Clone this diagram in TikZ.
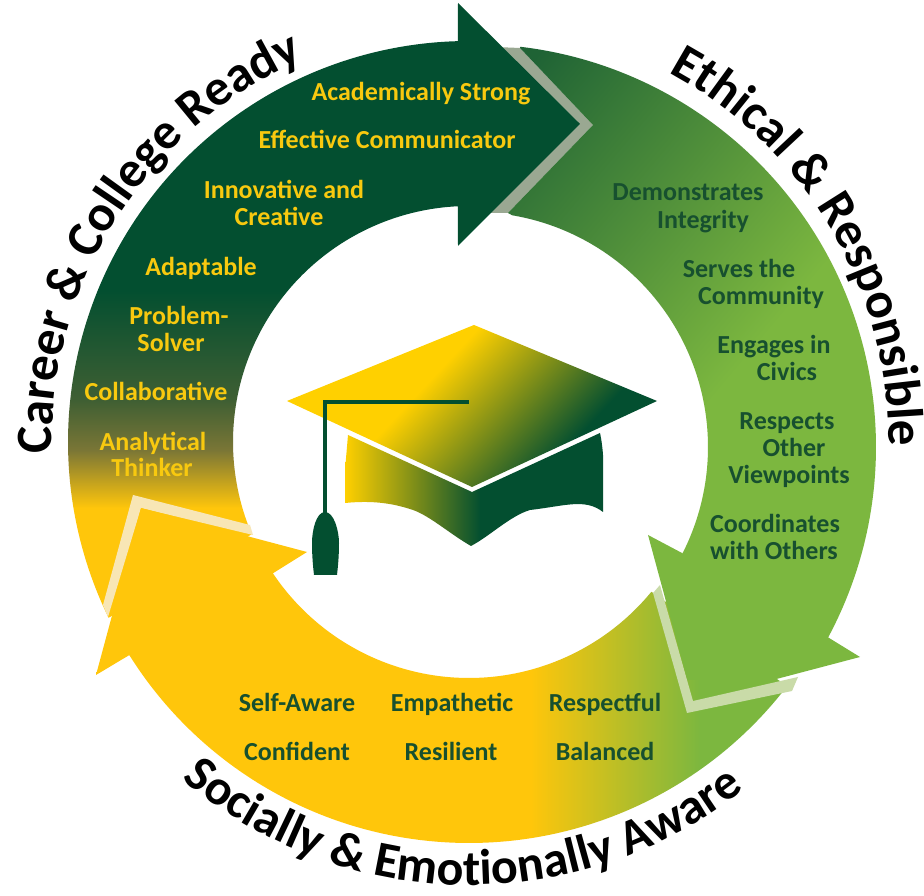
\documentclass[tikz,border=0pt]{standalone}
\usepackage{fontspec}
\setmainfont{Carlito}
\usetikzlibrary{decorations.text,calc}
\definecolor{dk}{HTML}{034F30}
\definecolor{yl}{HTML}{FFC60B}
\definecolor{lg}{HTML}{7CB73F}
\definecolor{mg}{HTML}{1F6335}
\definecolor{capy}{HTML}{FFD000}
\definecolor{ytxt}{HTML}{F8C90F}
\definecolor{gtxt}{HTML}{17502F}
\definecolor{bandtop}{HTML}{9AA892}
\definecolor{bandleft}{HTML}{F8E6B5}
\definecolor{bandright}{HTML}{C9DBA8}
\definecolor{olivea}{HTML}{3F5F33}
\definecolor{oliveb}{HTML}{7A7636}
\pgfdeclareverticalshading{darkyellow}{100bp}{color(0bp)=(yl); color(46.65bp)=(yl); color(49.89bp)=(oliveb); color(52.68bp)=(olivea); color(58.8bp)=(dk); color(100bp)=(dk)}
\pgfdeclarehorizontalshading{yellowgreen}{100bp}{color(0bp)=(yl); color(53.7bp)=(yl); color(62.9bp)=(lg); color(100bp)=(lg)}
\pgfdeclarehorizontalshading{greenband}{100bp}{color(0bp)=(mg); color(29bp)=(mg); color(56bp)=(lg); color(100bp)=(lg)}
\pgfdeclarehorizontalshading{brimshade}{100bp}{color(0bp)=(capy); color(43.4bp)=(capy); color(63.4bp)=(dk); color(100bp)=(dk)}
\pgfdeclarehorizontalshading{baseshade}{100bp}{color(0bp)=(capy); color(25bp)=(capy); color(51.2bp)=(dk); color(100bp)=(dk)}
\newcommand\arclab{\fontsize{51}{51}\selectfont\bfseries}
\newcommand\arclabb{\fontsize{50}{50}\selectfont\bfseries}
\tikzset{
  ylab/.style={anchor=base,text=ytxt,font=\fontsize{26}{26}\selectfont\bfseries,inner sep=0pt},
  glab/.style={anchor=base,text=gtxt,font=\fontsize{26}{26}\selectfont\bfseries,inner sep=0pt},
  ringlab/.style={decorate,decoration={text along path,text align=center,text={|\arclab|#1}}},
  ringlabb/.style={decorate,decoration={text along path,text align=center,text={|\arclabb|#1}}}
}
\begin{document}
\begin{tikzpicture}[x=1pt,y=1pt]
\useasboundingbox (0,0) rectangle (924,896);
\fill[white] (0,0) rectangle (924,896);
\coordinate (cl) at (469,454);
\coordinate (cg) at (473,449);
% top band
\fill[bandtop] (495,849) -- (520,848) -- (593,771) -- (508,683) -- (490,683) -- (560,772) -- cycle;
% dark arrow
\begin{scope}
\clip (cl) ++(91.6:401) arc[start angle=91.6,end angle=206,radius=401]
  -- ($(cl)+(203:236)$) arc[start angle=203,end angle=92.7,radius=236]
  -- (458,650) -- (580,772) -- (458,893) -- cycle;
\shade[shading=darkyellow] (0,0) rectangle (924,896);
\end{scope}
% left band
\fill[bandleft] (133,401) -- (250,371) -- (253,361) -- (141,388) -- (108,279) -- (103,291) -- cycle;
% yellow arrow
\begin{scope}
\clip ($(cl)+(213.8:236)$) arc[start angle=213.8,end angle=320.6,radius=236]
  -- ($(cl)+(322.5:401)$) arc[start angle=322.5,end angle=212.1,radius=401]
  -- (96,221) -- (141,388) -- (307,344) -- (275,324) -- cycle;
\shade[shading=yellowgreen] (0,0) rectangle (924,896);
\end{scope}
% right band
\fill[bandright] (653,303) -- (660,311) -- (693,195) -- (798,219) -- (792,205) -- (687,183) -- cycle;
% green arrow
\begin{scope}
\clip (593,771) -- (520,848) -- ($(cg)+(83.3:403)$) arc[start angle=83.3,end angle=-28.2,radius=403]
  -- (860,239) -- (693,195) -- (648,361) -- (682,343) -- ($(cg)+(-27.2:235)$)
  arc[start angle=-27.2,end angle=80.4,radius=235] -- (508,683) -- cycle;
\shade[shading=greenband,shading angle=-40] (320,216) rectangle (980,876);
\end{scope}
% cap
\begin{scope}
\clip (345,426) -- (348,461) -- (472,404) -- (600,463) .. controls (605,440) and (604,410) .. (603,384)
  .. controls (585,398) and (565,390) .. (530,386) .. controls (510,380) and (490,360) .. (471,350)
  .. controls (450,362) and (430,380) .. (413,386) .. controls (395,392) and (375,396) .. (345,393) -- cycle;
\shade[shading=baseshade] (345,340) rectangle (603,470);
\end{scope}
\begin{scope}
\clip (287,495) -- (474,571) -- (657,495) -- (472,409) -- cycle;
\shade[shading=brimshade,shading angle=-43] (287,305) rectangle (657,675);
\end{scope}
\draw[dk,line width=4.5pt] (469,494) -- (325,494) -- (325,383);
\fill[dk] (325,384) .. controls (316,384) and (312,365) .. (312,353) .. controls (312,340) and (313,330) .. (314,321) -- (337,321) .. controls (338,330) and (339,340) .. (339,353) .. controls (339,365) and (334,384) .. (325,384) -- cycle;
% ring titles
\path[ringlab={Career {\&} College Ready}] (cl) ++(191.5:417) arc[start angle=191.5,end angle=103.5,radius=417];
\path[ringlab={Ethical {\&} Responsible}] (cl) ++(69.5:420) arc[start angle=69.5,end angle=-8.5,radius=420];
\path[ringlabb={Socially {\&} Emotionally Aware}] (cl) ++(221:443) arc[start angle=221,end angle=317,radius=443];
% labels
\begin{scope}[yshift=-1pt]
\node[ylab] (a1) at (421,796) {Academically Strong};
\node[ylab] (a2) at (387,748) {Effective Communicator};
\node[ylab] (a3) at (284,698) {Innovative and};
\node[ylab] (a4) at (279,671) {Creative};
\node[ylab] (a5) at (201,621) {Adaptable};
\node[ylab] (a6) at (179,572) {Problem-};
\node[ylab] (a7) at (171,545) {Solver};
\node[ylab] (a8) at (156,496) {Collaborative};
\node[ylab] (a9) at (153,446) {Analytical};
\node[ylab] (a10) at (152,420) {Thinker};
\node[glab] (b1) at (688,696) {Demonstrates};
\node[glab] (b2) at (703,668) {Integrity};
\node[glab] (b3) at (739,619) {Serves the};
\node[glab] (b4) at (761,592) {Community};
\node[glab] (b5) at (774,543) {Engages in};
\node[glab] (b6) at (787,516) {Civics};
\node[glab] (b7) at (787,467) {Respects};
\node[glab] (b8) at (794,440) {Other};
\node[glab] (b9) at (789,413) {Viewpoints};
\node[glab] (b10) at (775,364) {Coordinates};
\node[glab] (b11) at (774,337) {with Others};
\node[glab] (c1) at (297,185) {Self-Aware};
\node[glab] (c2) at (452,185) {Empathetic};
\node[glab] (c3) at (605,185) {Respectful};
\node[glab] (c4) at (297,136) {Confident};
\node[glab] (c5) at (451,136) {Resilient};
\node[glab] (c6) at (605,136) {Balanced};
\end{scope}
\end{tikzpicture}
\end{document}
